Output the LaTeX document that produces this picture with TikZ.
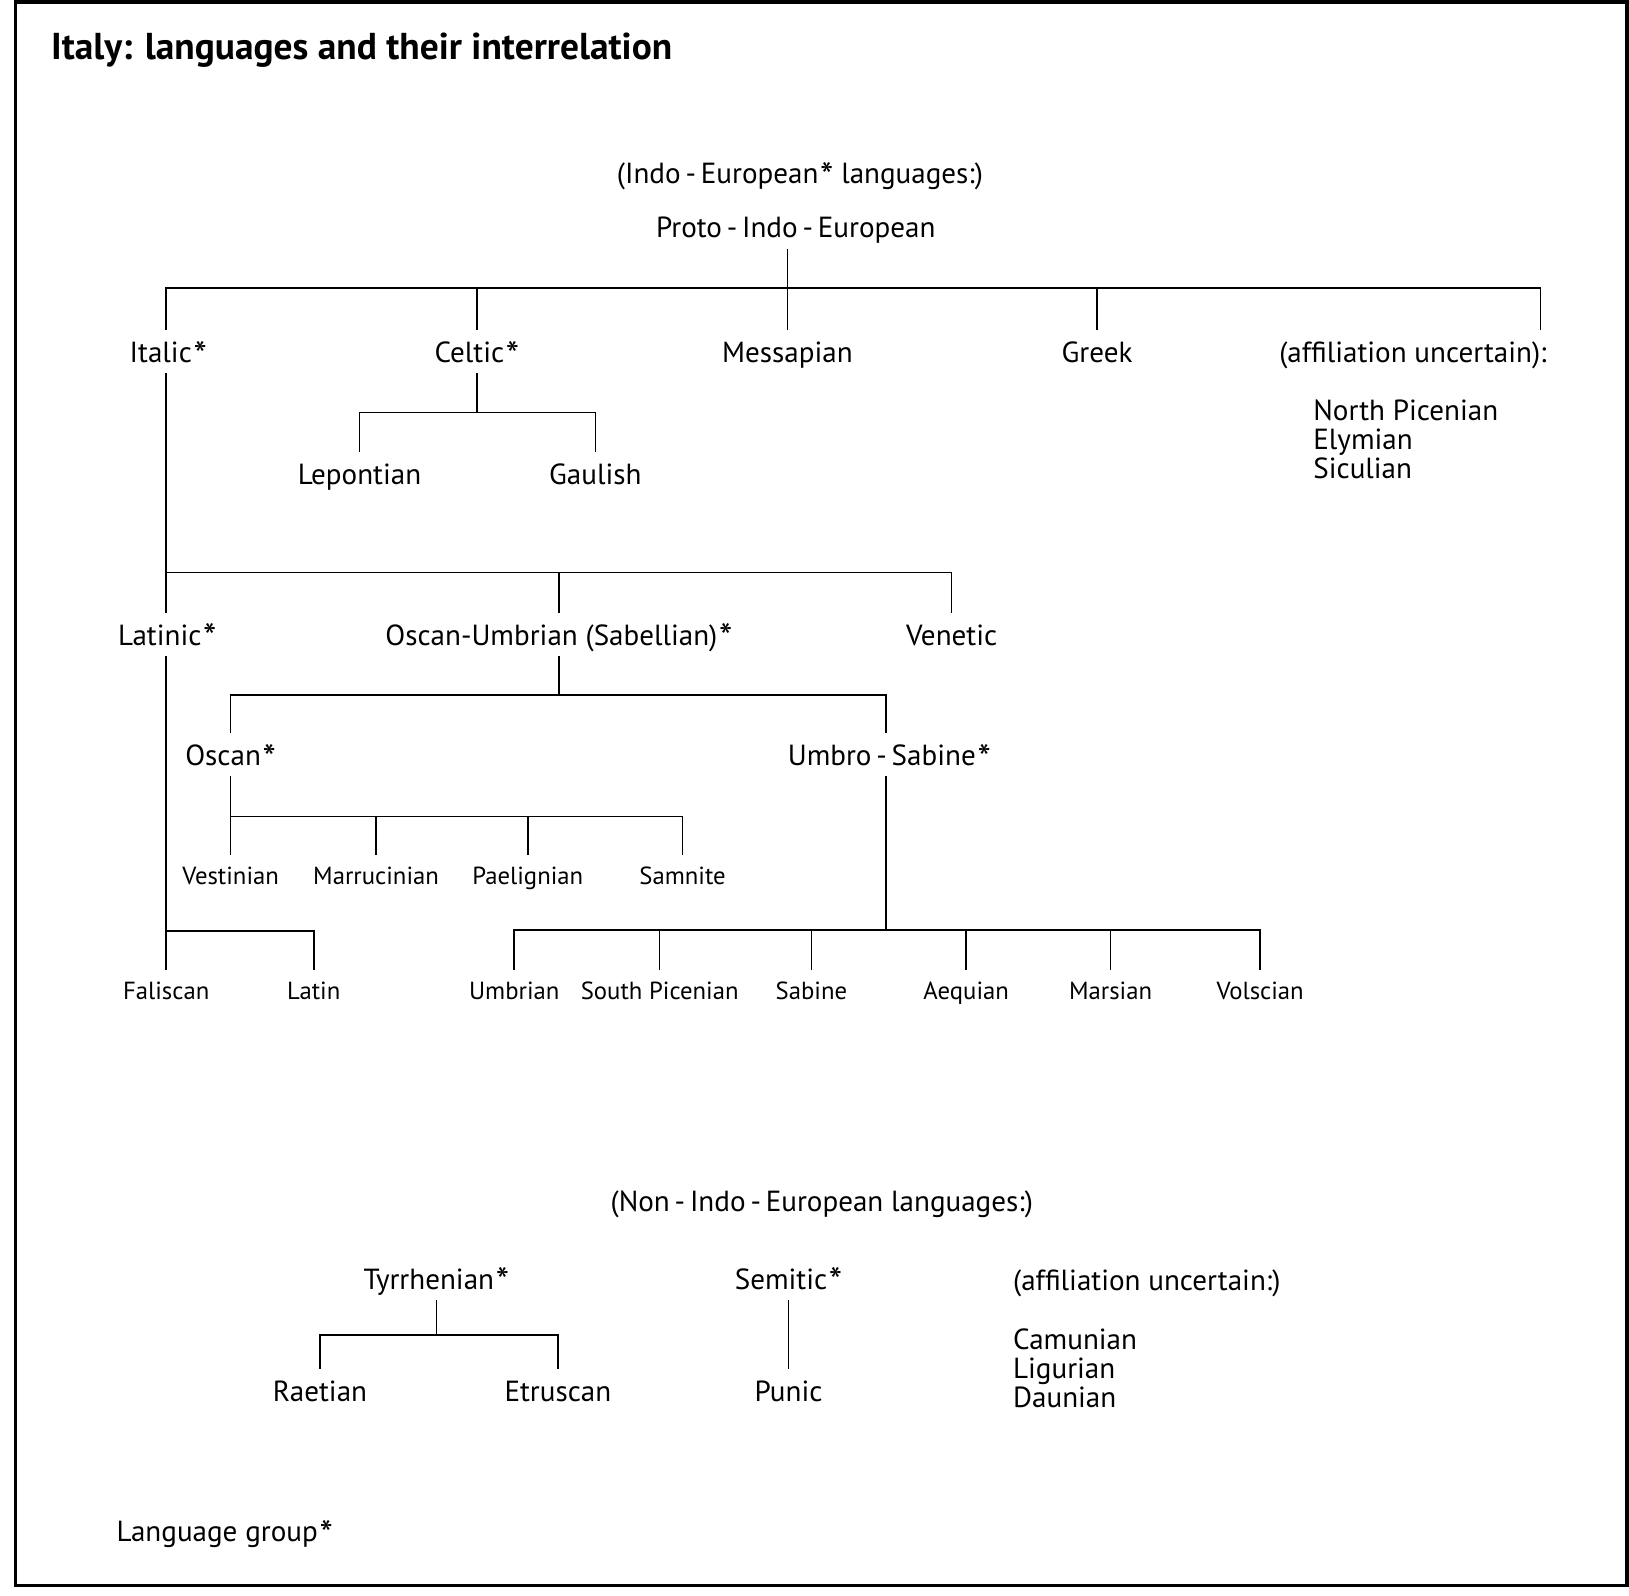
\documentclass[tikz,border=0pt]{standalone}
\usepackage{graphicx}
\usepackage{fontspec}
\setmainfont{PT Sans}
\newcommand\stx{\kern.06em\raisebox{-.19em}{\scalebox{1.3}{*}}}
\begin{document}
\begin{tikzpicture}[x=1pt,y=-1pt,
  ln/.style={line width=1.5pt},
  lab/.style={anchor=base,inner sep=0pt,font=\fontsize{28}{33}\selectfont,text height=31pt,text depth=10pt},
  sml/.style={anchor=base,inner sep=0pt,font=\fontsize{23.8}{28}\selectfont,text height=28pt,text depth=10pt},
  lft/.style={anchor=base west,inner sep=0pt,font=\fontsize{28}{33}\selectfont},
  ttl/.style={anchor=base west,inner sep=0pt,font=\bfseries\fontsize{36}{42}\selectfont}]
\useasboundingbox (0,0) rectangle (1568,1536);
\draw[line width=3.5pt] (15,2) rectangle (1566,1526);

\node[ttl] (title) at (49,57) {Italy: languages and their interrelation};

% Indo-European
\node[lab] (ie) at (770,177) {(Indo\,-\,European\stx{} languages:)};
\node[lab] (pie) at (766,229) {Proto\,-\,Indo\,-\,European};

\node[lab] (italic) at (162,349) {Italic\stx};
\node[lab] (celtic) at (459,349) {Celtic\stx};
\node[lab] (messapian) at (758,349) {Messapian};
\node[lab] (greek) at (1056,349) {Greek};
\node[lab] (affil) at (1360,349) {(affiliation uncertain):};
\node[lft] (np) at (1264,405) {North Picenian};
\node[lft] (ely) at (1264,433) {Elymian};
\node[lft] (sic) at (1264,461) {Siculian};

\node[lab] (lepontian) at (346,466) {Lepontian};
\node[lab] (gaulish) at (573,466) {Gaulish};

\node[lab] (latinic) at (161,621) {Latinic\stx};
\node[lab] (osum) at (538,621) {Oscan-Umbrian (Sabellian)\stx};
\node[lab] (venetic) at (916,621) {Venetic};

\node[lab] (oscan) at (222,737) {Oscan\stx};
\node[lab] (umsab) at (856,737) {Umbro\,-\,Sabine\stx};

\node[sml] (vestinian) at (222,851) {Vestinian};
\node[sml] (marrucinian) at (362,851) {Marrucinian};
\node[sml] (paelignian) at (508,851) {Paelignian};
\node[sml] (samnite) at (657,851) {Samnite};

\node[sml] (faliscan) at (160,962) {Faliscan};
\node[sml] (latin) at (302,962) {Latin};

\node[sml] (umbrian) at (495,962) {Umbrian};
\node[sml] (spicenian) at (635,962) {South Picenian};
\node[sml] (sabine) at (781,962) {Sabine};
\node[sml] (aequian) at (930,962) {Aequian};
\node[sml] (marsian) at (1069,962) {Marsian};
\node[sml] (volscian) at (1213,962) {Volscian};

% Non-Indo-European
\node[lab] (nonie) at (791,1166) {(Non\,-\,Indo\,-\,European languages:)};
\node[lab] (tyrr) at (420,1241) {Tyrrhenian\stx};
\node[lab] (semitic) at (759,1241) {Semitic\stx};
\node[lft] (affil2) at (975,1242) {(affiliation uncertain:)};
\node[lft] (camunian) at (975,1299) {Camunian};
\node[lft] (ligurian) at (975,1327) {Ligurian};
\node[lft] (daunian) at (975,1355) {Daunian};

\node[lab] (raetian) at (308,1349) {Raetian};
\node[lab] (etruscan) at (537,1349) {Etruscan};
\node[lab] (punic) at (759,1349) {Punic};

\node[lft] (legend) at (112,1484) {Language group\stx};

% junctions
\coordinate (b1) at (758,277);
\coordinate (affR) at (1483,0);
\coordinate (b2) at (459,397);
\coordinate (b3) at (160,551);
\coordinate (b4) at (538,669);
\coordinate (b5) at (222,786);
\coordinate (b6) at (160,896);
\coordinate (b7) at (853,895);
\coordinate (b8) at (420,1285);

% connectors
\draw[ln] (pie.south -| b1) -- (b1);
\draw[ln] (italic.north -| b3) -- (b1 -| b3) -- (b1 -| affR) -- (affil.north -| affR);
\foreach \n in {celtic,messapian,greek} \draw[ln] (\n.north) -- (\n.north |- b1);

\draw[ln] (celtic.south) -- (b2);
\draw[ln] (lepontian.north) |- (gaulish.north |- b2) -- (gaulish.north);

\draw[ln] (italic.south -| b3) -- (latinic.north -| b3);
\draw[ln] (b3) -| (venetic.north);
\draw[ln] (osum.north) -- (osum.north |- b3);

\draw[ln] (osum.south) -- (b4);
\draw[ln] (oscan.north) |- (b4 -| b7) -- (umsab.north -| b7);

\draw[ln] (oscan.south) -- (vestinian.north);
\draw[ln] (oscan.south |- b5) -| (samnite.north);
\foreach \n in {marrucinian,paelignian} \draw[ln] (\n.north) -- (\n.north |- b5);

\draw[ln] (latinic.south -| b6) -- (faliscan.north -| b6);
\draw[ln] (b6) -| (latin.north);

\draw[ln] (umsab.south -| b7) -- (b7);
\draw[ln] (umbrian.north) |- (volscian.north |- b7) -- (volscian.north);
\foreach \n in {spicenian,sabine,aequian,marsian} \draw[ln] (\n.north) -- (\n.north |- b7);

\draw[ln] (tyrr.south) -- (b8);
\draw[ln] (raetian.north) |- (etruscan.north |- b8) -- (etruscan.north);
\draw[ln] (semitic.south) -- (punic.north);
\end{tikzpicture}
\end{document}
